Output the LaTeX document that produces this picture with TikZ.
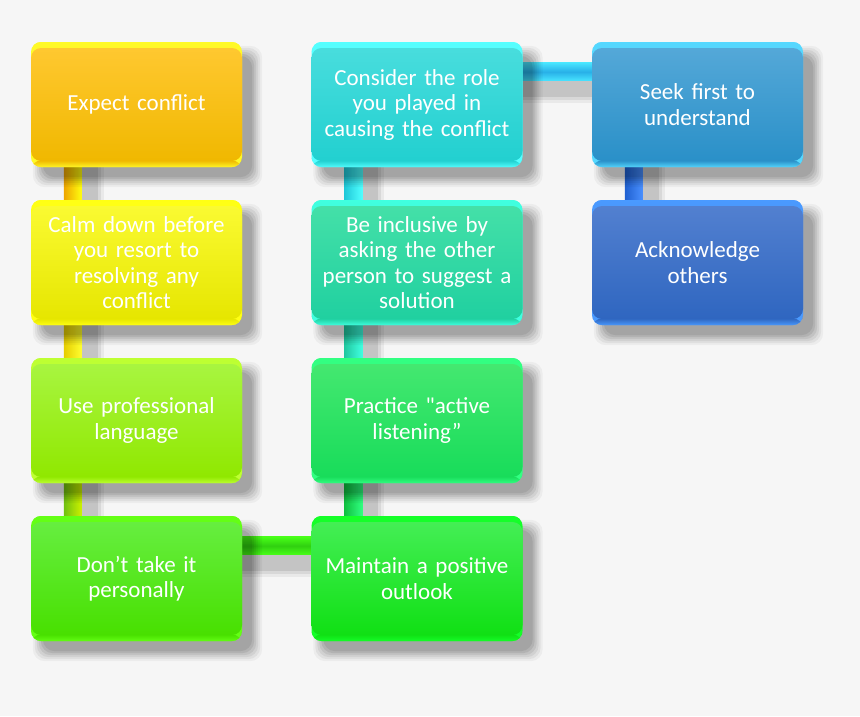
\documentclass[tikz,border=0pt]{standalone}
\usepackage{fontspec}
\newfontfamily\boxfam{Carlito}
\usetikzlibrary{calc}
\pgfdeclarelayer{bgl}
\pgfdeclarelayer{connl}
\pgfdeclarelayer{shadl}
\pgfsetlayers{bgl,connl,shadl,main}
\newcommand\boxfont{\boxfam\fontsize{23}{25.5}\selectfont}
% box colours: rim, top, bottom
\definecolor{rA}{RGB}{255,250,40}\definecolor{tA}{RGB}{255,200,48}\definecolor{bA}{RGB}{240,184,0}
\definecolor{rB}{RGB}{255,255,20}\definecolor{tB}{RGB}{250,250,50}\definecolor{bB}{RGB}{230,230,0}
\definecolor{rC}{RGB}{190,255,50}\definecolor{tC}{RGB}{168,245,64}\definecolor{bC}{RGB}{144,232,0}
\definecolor{rD}{RGB}{100,255,20}\definecolor{tD}{RGB}{102,238,64}\definecolor{bD}{RGB}{72,224,0}
\definecolor{rE}{RGB}{20,255,40}\definecolor{tE}{RGB}{68,238,85}\definecolor{bE}{RGB}{16,224,20}
\definecolor{rF}{RGB}{50,255,130}\definecolor{tF}{RGB}{68,232,112}\definecolor{bF}{RGB}{24,220,90}
\definecolor{rG}{RGB}{64,255,224}\definecolor{tG}{RGB}{68,224,168}\definecolor{bG}{RGB}{32,208,160}
\definecolor{rH}{RGB}{85,255,255}\definecolor{tH}{RGB}{72,221,221}\definecolor{bH}{RGB}{34,208,208}
\definecolor{rI}{RGB}{85,216,255}\definecolor{tI}{RGB}{84,168,216}\definecolor{bI}{RGB}{42,144,200}
\definecolor{rJ}{RGB}{74,154,255}\definecolor{tJ}{RGB}{82,128,208}\definecolor{bJ}{RGB}{47,102,192}
% connector colours: dark side, light side
\definecolor{c1d}{RGB}{238,165,0}\definecolor{c1l}{RGB}{255,255,16}
\definecolor{c2d}{RGB}{230,205,0}\definecolor{c2l}{RGB}{255,255,48}
\definecolor{c3d}{RGB}{112,192,16}\definecolor{c3l}{RGB}{205,242,0}
\definecolor{c4d}{RGB}{48,208,16}\definecolor{c4l}{RGB}{72,255,24}
\definecolor{c5d}{RGB}{16,192,64}\definecolor{c5l}{RGB}{48,255,128}
\definecolor{c6d}{RGB}{32,200,160}\definecolor{c6l}{RGB}{64,255,224}
\definecolor{c7d}{RGB}{32,200,216}\definecolor{c7l}{RGB}{80,255,255}
\definecolor{c8d}{RGB}{40,176,232}\definecolor{c8l}{RGB}{72,228,255}
\definecolor{c9d}{RGB}{32,96,208}\definecolor{c9l}{RGB}{74,144,255}
\definecolor{bgc}{RGB}{246,246,246}
\tikzset{
  gbox/.style n args={3}{
    rectangle, rounded corners=10pt, fill=#1,
    minimum width=211pt, minimum height=125pt, inner sep=0pt,
    text width=207pt, align=center, font=\boxfont, text=white,
    path picture={
      \shade[top color=#1, bottom color=#2] ([yshift=0.5pt]path picture bounding box.north west) rectangle ([yshift=-6.5pt]path picture bounding box.north east);
      \shade[top color=#2, bottom color=#3] ([yshift=-6pt]path picture bounding box.north west) rectangle ([yshift=6pt]path picture bounding box.south east);
      \shade[top color=#3, bottom color=#1] ([yshift=6.5pt]path picture bounding box.south west) rectangle ([yshift=-0.5pt]path picture bounding box.south east);
    }
  },
  softshadow/.style={black, opacity=#1}
}
% blurred drop shadow of a box
\newcommand\bshadow[1]{%
  \begin{pgfonlayer}{shadl}
  \foreach \e/\o in {9/0.04,7/0.05,5/0.06,3/0.07,1/0.08,-1/0.08}{
    \fill[softshadow=\o, rounded corners=12pt]
      ($(#1.north west)+(11-\e,13-\e)$) rectangle ($(#1.south east)+(11+\e,11+\e)$);
  }
  \end{pgfonlayer}}
% vertical bar from box #1 (above) to box #2 (below)
\newcommand\vconn[4]{%
  \begin{pgfonlayer}{connl}
  \foreach \e/\o in {7/0.05,4/0.07,1/0.09}{
    \fill[softshadow=\o] ($(#1.south west)+(52-\e,0)$) rectangle ($(#2.north west)+(66+\e,0)$);
  }
  \shade[left color=#3, right color=#4] ($(#1.south west)+(33,-5)$) rectangle ($(#2.north west)+(51,5)$);
  \end{pgfonlayer}}
% horizontal bar from box #1 (left) to box #2 (right)
\newcommand\hconn[4]{%
  \begin{pgfonlayer}{connl}
  \foreach \e/\o in {7/0.05,4/0.07,1/0.09}{
    \fill[softshadow=\o] ($(#1.north east)+(0,40-\e)$) rectangle ($(#2.north west)+(0,54+\e)$);
  }
  \shade[top color=#4, bottom color=#4, middle color=#3] ($(#1.north east)+(-5,21)$) rectangle ($(#2.north west)+(5,39)$);
  \end{pgfonlayer}}
\begin{document}
\begin{tikzpicture}[x=1pt,y=-1pt]
\begin{pgfonlayer}{bgl}
\fill[bgc] (0,0) rectangle (860,716);
\end{pgfonlayer}
\useasboundingbox (0,0) rectangle (860,716);

\node[gbox={rA}{tA}{bA}] (b1) at (136.5,104.5) {Expect conflict};
\node[gbox={rB}{tB}{bB}] (b2) at (136.5,262.5) {Calm down before\\you resort to\\resolving any\\conflict};
\node[gbox={rC}{tC}{bC}] (b3) at (136.5,420.5) {Use professional\\language};
\node[gbox={rD}{tD}{bD}] (b4) at (136.5,578.5) {Don’t take it\\personally};
\node[gbox={rE}{tE}{bE}] (b5) at (417,578.5) {Maintain a positive\\outlook};
\node[gbox={rF}{tF}{bF}] (b6) at (417,420.5) {Practice "active\\listening”};
\node[gbox={rG}{tG}{bG}] (b7) at (417,262.5) {Be inclusive by\\asking the other\\person to suggest a\\solution};
\node[gbox={rH}{tH}{bH}] (b8) at (417,104.5) {Consider the role\\you played in\\causing the conflict};
\node[gbox={rI}{tI}{bI}] (b9) at (697.5,104.5) {Seek first to\\understand};
\node[gbox={rJ}{tJ}{bJ}] (b10) at (697.5,262.5) {Acknowledge\\others};

\foreach \b in {b1,b2,b3,b4,b5,b6,b7,b8,b9,b10}{\bshadow{\b}}

\vconn{b1}{b2}{c1d}{c1l}
\vconn{b2}{b3}{c2d}{c2l}
\vconn{b3}{b4}{c3d}{c3l}
\hconn{b4}{b5}{c4d}{c4l}
\vconn{b6}{b5}{c5d}{c5l}
\vconn{b7}{b6}{c6d}{c6l}
\vconn{b8}{b7}{c7d}{c7l}
\hconn{b8}{b9}{c8d}{c8l}
\vconn{b9}{b10}{c9d}{c9l}
\end{tikzpicture}
\end{document}
